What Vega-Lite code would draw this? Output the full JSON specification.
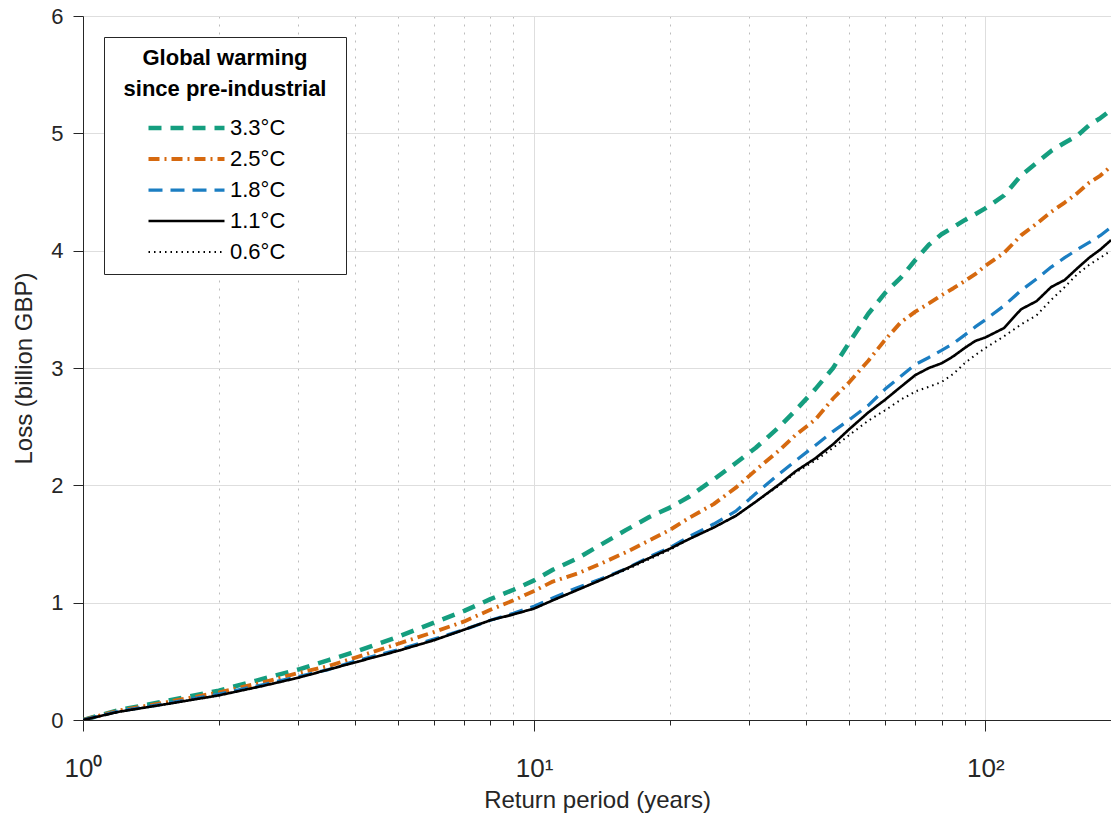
{
  "$schema": "https://vega.github.io/schema/vega-lite/v6.json",
  "width": 1028,
  "height": 704,
  "autosize": {"type": "none"},
  "padding": {"left": 83, "top": 16, "right": 0, "bottom": 98},
  "background": "white",
  "config": {"view": {"stroke": null}, "font": "Liberation Sans"},
  "datasets": {
    "t": [
      {"rp":1,"g":0,"o":0,"b":0,"k":0,"d":0},
      {"rp":1.2,"g":0.085,"o":0.08,"b":0.075,"k":0.07,"d":0.07},
      {"rp":1.5,"g":0.155,"o":0.145,"b":0.135,"k":0.13,"d":0.13},
      {"rp":2,"g":0.25,"o":0.235,"b":0.22,"k":0.21,"d":0.21},
      {"rp":2.5,"g":0.35,"o":0.32,"b":0.30,"k":0.29,"d":0.29},
      {"rp":3,"g":0.43,"o":0.40,"b":0.37,"k":0.36,"d":0.36},
      {"rp":3.5,"g":0.51,"o":0.46,"b":0.43,"k":0.43,"d":0.43},
      {"rp":4,"g":0.58,"o":0.53,"b":0.50,"k":0.49,"d":0.49},
      {"rp":5,"g":0.71,"o":0.65,"b":0.60,"k":0.59,"d":0.59},
      {"rp":6,"g":0.83,"o":0.75,"b":0.69,"k":0.68,"d":0.68},
      {"rp":7,"g":0.93,"o":0.84,"b":0.77,"k":0.77,"d":0.77},
      {"rp":8,"g":1.03,"o":0.94,"b":0.85,"k":0.85,"d":0.85},
      {"rp":9,"g":1.11,"o":1.02,"b":0.91,"k":0.90,"d":0.90},
      {"rp":10,"g":1.19,"o":1.10,"b":0.97,"k":0.95,"d":0.95},
      {"rp":11,"g":1.28,"o":1.18,"b":1.04,"k":1.02,"d":1.02},
      {"rp":12.5,"g":1.38,"o":1.25,"b":1.13,"k":1.11,"d":1.11},
      {"rp":14,"g":1.49,"o":1.33,"b":1.20,"k":1.19,"d":1.19},
      {"rp":16,"g":1.62,"o":1.43,"b":1.29,"k":1.29,"d":1.28},
      {"rp":18,"g":1.73,"o":1.53,"b":1.39,"k":1.38,"d":1.37},
      {"rp":20,"g":1.81,"o":1.62,"b":1.47,"k":1.46,"d":1.45},
      {"rp":22,"g":1.90,"o":1.72,"b":1.56,"k":1.54,"d":1.54},
      {"rp":25,"g":2.05,"o":1.84,"b":1.67,"k":1.64,"d":1.64},
      {"rp":28,"g":2.19,"o":1.98,"b":1.78,"k":1.74,"d":1.74},
      {"rp":31,"g":2.32,"o":2.13,"b":1.93,"k":1.86,"d":1.86},
      {"rp":35,"g":2.50,"o":2.30,"b":2.10,"k":2.01,"d":2.00},
      {"rp":38,"g":2.64,"o":2.43,"b":2.21,"k":2.12,"d":2.11},
      {"rp":42,"g":2.82,"o":2.56,"b":2.34,"k":2.23,"d":2.21},
      {"rp":46,"g":3.00,"o":2.74,"b":2.46,"k":2.35,"d":2.32},
      {"rp":50,"g":3.22,"o":2.88,"b":2.56,"k":2.48,"d":2.43},
      {"rp":55,"g":3.46,"o":3.06,"b":2.68,"k":2.62,"d":2.55},
      {"rp":60,"g":3.64,"o":3.24,"b":2.82,"k":2.73,"d":2.64},
      {"rp":65,"g":3.77,"o":3.39,"b":2.93,"k":2.84,"d":2.73},
      {"rp":70,"g":3.92,"o":3.48,"b":3.03,"k":2.94,"d":2.80},
      {"rp":75,"g":4.05,"o":3.55,"b":3.09,"k":3.00,"d":2.84},
      {"rp":80,"g":4.14,"o":3.62,"b":3.15,"k":3.04,"d":2.88},
      {"rp":85,"g":4.20,"o":3.68,"b":3.21,"k":3.10,"d":2.95},
      {"rp":90,"g":4.26,"o":3.74,"b":3.28,"k":3.17,"d":3.04},
      {"rp":95,"g":4.31,"o":3.80,"b":3.35,"k":3.23,"d":3.11},
      {"rp":100,"g":4.36,"o":3.87,"b":3.41,"k":3.26,"d":3.17},
      {"rp":110,"g":4.47,"o":3.98,"b":3.53,"k":3.34,"d":3.27},
      {"rp":120,"g":4.64,"o":4.13,"b":3.66,"k":3.50,"d":3.37},
      {"rp":130,"g":4.75,"o":4.23,"b":3.76,"k":3.57,"d":3.45},
      {"rp":140,"g":4.85,"o":4.33,"b":3.86,"k":3.69,"d":3.58},
      {"rp":150,"g":4.92,"o":4.41,"b":3.94,"k":3.75,"d":3.69},
      {"rp":160,"g":4.98,"o":4.49,"b":4.01,"k":3.85,"d":3.80},
      {"rp":170,"g":5.07,"o":4.58,"b":4.07,"k":3.94,"d":3.88},
      {"rp":180,"g":5.13,"o":4.64,"b":4.13,"k":4.01,"d":3.94},
      {"rp":190,"g":5.20,"o":4.72,"b":4.20,"k":4.09,"d":4.00}
    ]
  },
  "data": {"name": "t"},
  "transform": [
    {"fold": ["g", "o", "b", "k", "d"], "as": ["key", "loss"]},
    {"lookup": "key", "from": {"data": {"values": [
      {"key": "g", "w": "3.3°C"},
      {"key": "o", "w": "2.5°C"},
      {"key": "b", "w": "1.8°C"},
      {"key": "k", "w": "1.1°C"},
      {"key": "d", "w": "0.6°C"}
    ]}, "key": "key", "fields": ["w"]}}
  ],
  "mark": {"type": "line", "clip": true, "strokeCap": "butt", "strokeJoin": "round"},
  "encoding": {
    "x": {
      "field": "rp", "type": "quantitative",
      "scale": {"type": "log", "domain": [1, 190], "nice": false},
      "axis": {
        "values": [1,2,3,4,5,6,7,8,9,10,20,30,40,50,60,70,80,90,100],
        "labelExpr": "datum.value == 1 ? '10⁰' : datum.value == 10 ? '10¹' : datum.value == 100 ? '10²' : ''",
        "title": "Return period (years)",
        "titleFontSize": 24, "titleFontWeight": "normal", "titleColor": "#262626", "titlePadding": 7,
        "labelFontSize": 26, "labelColor": "#262626", "labelPadding": 24, "labelFlush": false, "labelOverlap": false,
        "grid": true,
        "gridColor": {"condition": {"test": "datum.value == 1 || datum.value == 10 || datum.value == 100", "value": "#dedede"}, "value": "#bdbdbd"},
        "gridDash": {"condition": {"test": "datum.value == 1 || datum.value == 10 || datum.value == 100", "value": []}, "value": [2, 6]},
        "gridWidth": 1,
        "tickSize": {"condition": {"test": "datum.value == 1 || datum.value == 10 || datum.value == 100", "value": 11}, "value": 5},
        "tickColor": "#262626", "domainColor": "#262626"
      }
    },
    "y": {
      "field": "loss", "type": "quantitative",
      "scale": {"domain": [0, 6], "nice": false},
      "axis": {
        "values": [0,1,2,3,4,5,6],
        "title": "Loss (billion GBP)",
        "titleFontSize": 24, "titleFontWeight": "normal", "titleColor": "#262626", "titlePadding": 14,
        "labelFontSize": 22, "labelColor": "#262626", "labelPadding": 10,
        "grid": true, "gridColor": "#dedede", "gridWidth": 1,
        "tickSize": 10, "tickColor": "#262626", "domainColor": "#262626"
      }
    },
    "color": {
      "field": "w", "type": "nominal",
      "scale": {"domain": ["3.3°C","2.5°C","1.8°C","1.1°C","0.6°C"], "range": ["#159e7f","#d6690f","#1b7ec2","#000000","#000000"]},
      "legend": {
        "orient": "none", "legendX": 21, "legendY": 21,
        "strokeColor": "#262626", "fillColor": "white", "padding": 11,
        "title": ["Global warming", "since pre-industrial"],
        "titleFontSize": 22, "titleFontWeight": "bold", "titleColor": "black", "titleLimit": 600,
        "titleAnchor": "middle", "titleAlign": "center", "titleLineHeight": 31, "titlePadding": 17,
        "labelFontSize": 22, "labelColor": "black", "labelOffset": 3, "labelLimit": 400,
        "labelExpr": "datum.label + '\u00a0\u00a0\u00a0\u00a0\u00a0\u00a0\u00a0\u00a0\u200b'",
        "symbolType": "stroke", "symbolSize": 5776, "symbolOffset": 31, "clipHeight": 20, "rowPadding": 9
      }
    },
    "strokeDash": {
      "field": "w", "type": "nominal",
      "scale": {"domain": ["3.3°C","2.5°C","1.8°C","1.1°C","0.6°C"], "range": [[13,9],[11,5,2,5],[14,8],[1,0],[1.5,4]]},
      "legend": null
    },
    "strokeWidth": {
      "field": "w", "type": "nominal",
      "scale": {"domain": ["3.3°C","2.5°C","1.8°C","1.1°C","0.6°C"], "range": [4.5, 2, 2, 2.3, 1.6]},
      "legend": null
    },
    "order": {"field": "rp", "type": "quantitative"}
  }
}
